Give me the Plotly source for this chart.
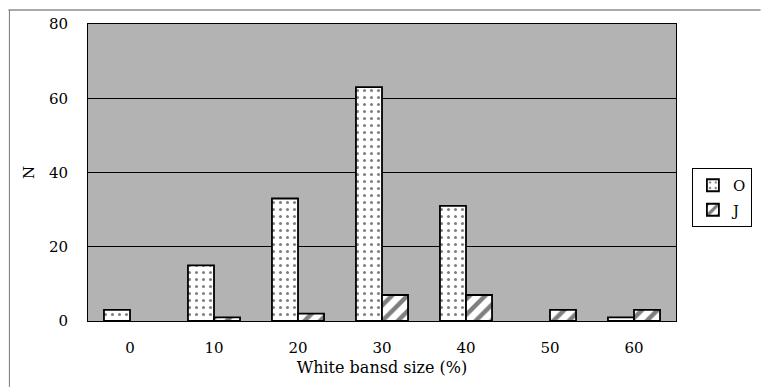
import plotly.graph_objects as go

categories = ["0", "10", "20", "30", "40", "50", "60"]
values_O = [3, 15, 33, 63, 31, 0, 1]
values_J = [0, 1, 2, 7, 7, 3, 3]
y_ticks = [0, 20, 40, 60, 80]

W, H = 764, 387
L, R, T, B = 88, 85, 24, 66
pw, ph = W - L - R, H - T - B

font = "DejaVu Serif"

def outline(vals):
    return [1.8 if v > 0 else 0 for v in vals]

pat_O = dict(shape=".", fgcolor="black", bgcolor="white", size=7, solidity=0.15)
pat_J = dict(shape="/", fgcolor="black", bgcolor="white", size=11, solidity=0.4)

fig = go.Figure()
fig.add_trace(go.Bar(
    x=categories, y=values_O, name="O", showlegend=False, legendgroup="O", offsetgroup="O",
    marker=dict(color="white", line=dict(color="black", width=outline(values_O)), pattern=pat_O),
))
fig.add_trace(go.Bar(
    x=categories, y=values_J, name="J", showlegend=False, legendgroup="J", offsetgroup="J",
    marker=dict(color="white", line=dict(color="black", width=outline(values_J)), pattern=pat_J),
))
# legend entries
fig.add_trace(go.Bar(
    x=[None], y=[None], name="O", legendgroup="O", offsetgroup="O",
    marker=dict(color="white", line=dict(color="black", width=1.8), pattern=pat_O),
))
fig.add_trace(go.Bar(
    x=[None], y=[None], name="J", legendgroup="J", offsetgroup="J",
    marker=dict(color="white", line=dict(color="black", width=1.8), pattern=pat_J),
))

def px_x(p):
    return (p - L) / pw

def px_y(p):
    return (H - B - p) / ph

fig.update_layout(
    width=W, height=H,
    margin=dict(l=L, r=R, t=T, b=B),
    paper_bgcolor="white",
    plot_bgcolor="#b3b3b3",
    barmode="group",
    bargap=0.38,
    bargroupgap=0,
    font=dict(family=font, size=15, color="black"),
    showlegend=True,
    legend=dict(
        x=px_x(695), y=px_y(168), xanchor="left", yanchor="top",
        bgcolor="white", bordercolor="black", borderwidth=1,
        font=dict(family=font, size=15, color="black"),
        itemwidth=30, tracegroupgap=2,
    ),
    xaxis=dict(
        type="category",
        showline=True, linecolor="black", linewidth=1, mirror=True,
        ticks="", ticklabelstandoff=13,
        title=dict(text="White bansd size (%)", font=dict(family=font, size=16), standoff=5),
        tickfont=dict(family=font, size=15),
    ),
    yaxis=dict(
        range=[0, 80], tickvals=y_ticks,
        showline=True, linecolor="black", linewidth=1, mirror=True,
        showgrid=True, gridcolor="black", gridwidth=1,
        zeroline=False,
        ticks="", ticklabelstandoff=16,
        title=dict(text="N", font=dict(family=font, size=15), standoff=10),
        tickfont=dict(family=font, size=15),
    ),
    shapes=[
        dict(type="line", xref="paper", yref="paper",
             x0=px_x(8), x1=px_x(764), y0=px_y(10), y1=px_y(10),
             line=dict(color="#555555", width=1)),
        dict(type="line", xref="paper", yref="paper",
             x0=px_x(9), x1=px_x(9), y0=px_y(10), y1=px_y(387),
             line=dict(color="#777777", width=1)),
    ],
)

fig.write_html("out.html")
